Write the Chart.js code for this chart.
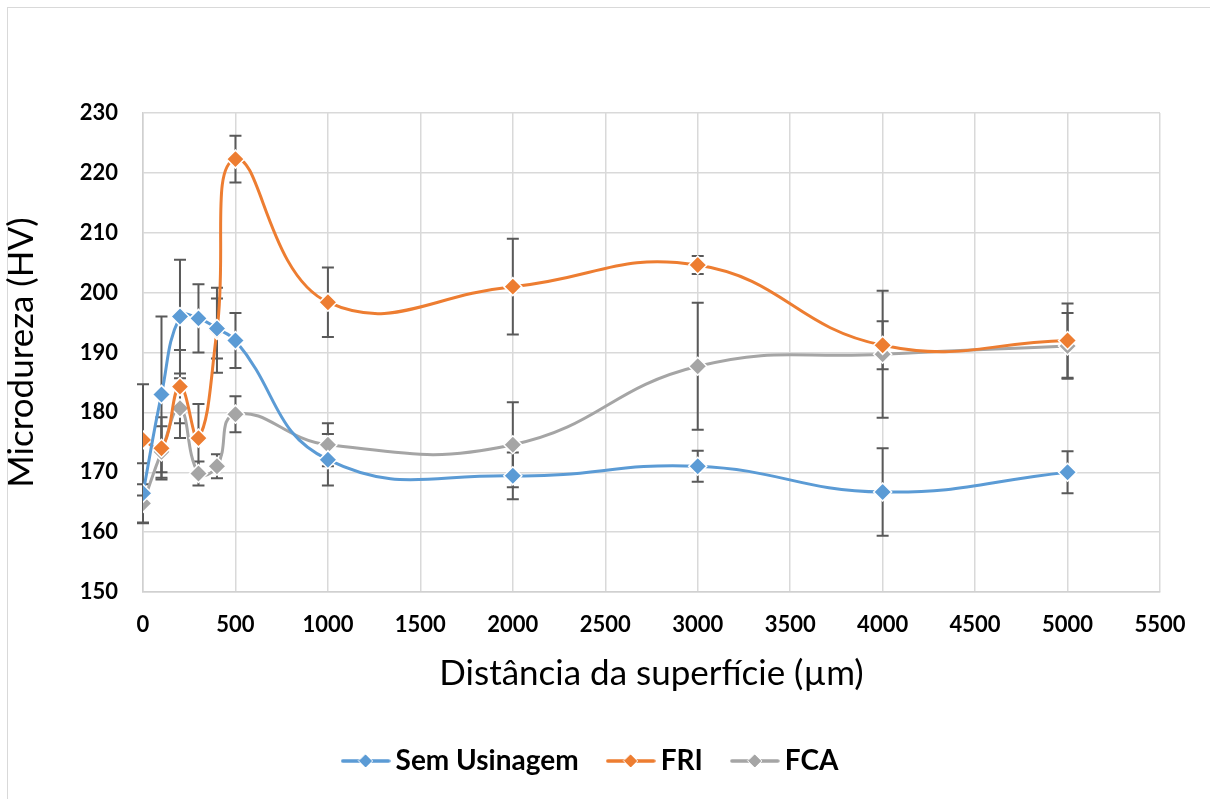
<!DOCTYPE html>
<html>
<head>
<meta charset="utf-8">
<script src="https://cdn.jsdelivr.net/npm/chart.js@4"></script>
<style>
  html, body { margin: 0; padding: 0; background: #fff; overflow: hidden; }
  #frame { position: absolute; left: 7px; top: 7px; width: 1220px; height: 810px; border: 1px solid #d9d9d9; }
  #wrap { position: absolute; left: 0; top: 0; width: 1210px; height: 799px; }
</style>
</head>
<body>
<div id="frame"></div>
<div id="wrap"><canvas id="myChart" width="1210" height="799"></canvas></div>
<script>
// distancias (µm) e microdureza (HV)
const distancias = [0, 100, 200, 300, 400, 500, 1000, 2000, 3000, 4000, 5000]
const semUsinagem = [166.5, 183.0, 196.0, 195.7, 194.0, 192.0, 172.1, 169.4, 171.0, 166.7, 170.0]
const semUsinagemErro = [5.0, 13.0, 9.5, 5.7, 5.0, 4.6, 4.3, 3.9, 2.6, 7.3, 3.5]
const fri = [175.4, 174.0, 184.3, 175.7, 193.7, 222.3, 198.4, 201.0, 204.6, 191.2, 192.0]
const friErro = [9.3, 5.2, 6.1, 5.7, 7.1, 3.9, 5.8, 8.0, 1.5, 4.0, 6.2]
const fca = [164.8, 173.4, 180.7, 169.8, 171.0, 179.7, 174.6, 174.6, 187.7, 189.7, 191.1]
const fcaErro = [3.2, 4.3, 5.0, 2.0, 2.0, 3.0, 3.6, 7.1, 10.6, 10.6, 5.5]
const xTicks = [0, 500, 1000, 1500, 2000, 2500, 3000, 3500, 4000, 4500, 5000, 5500]
const yTicks = [150, 160, 170, 180, 190, 200, 210, 220, 230]

const azul = '#5b9bd5'
const laranja = '#ed7d31'
const cinza = '#a5a5a5'

function pontos(valores) {
    return distancias.map((d, i) => ({ x: d, y: valores[i] }))
}

// imagem da legenda: linha com losango no meio
function iconeLegenda(cor) {
    const c = document.createElement('canvas')
    c.width = 50
    c.height = 18
    const g = c.getContext('2d')
    g.strokeStyle = cor
    g.lineWidth = 3.5
    g.lineCap = 'round'
    g.beginPath()
    g.moveTo(2, 9)
    g.lineTo(48, 9)
    g.stroke()
    g.fillStyle = cor
    g.strokeStyle = '#fff'
    g.lineWidth = 1
    g.beginPath()
    g.moveTo(25, 2)
    g.lineTo(32, 9)
    g.lineTo(25, 16)
    g.lineTo(18, 9)
    g.closePath()
    g.fill()
    g.stroke()
    return c
}

const errorBars = {
    id: 'errorBars',
    afterLayout(chart) {
        // empurra a legenda um pouco pra direita, como no original
        chart.legend.left += 14
        chart.legend.right += 14
    },
    beforeDatasetsDraw(chart) {
        const ctx = chart.ctx
        const yScale = chart.scales.y
        ctx.save()
        ctx.strokeStyle = '#595959'
        ctx.lineWidth = 2
        chart.data.datasets.forEach((ds, i) => {
            const meta = chart.getDatasetMeta(i)
            meta.data.forEach((pt, j) => {
                const v = ds.data[j].y
                const e = ds.erros[j]
                const top = yScale.getPixelForValue(v + e)
                const bot = yScale.getPixelForValue(v - e)
                ctx.beginPath()
                ctx.moveTo(pt.x, top)
                ctx.lineTo(pt.x, bot)
                ctx.moveTo(pt.x - 6, top)
                ctx.lineTo(pt.x + 6, top)
                ctx.moveTo(pt.x - 6, bot)
                ctx.lineTo(pt.x + 6, bot)
                ctx.stroke()
            })
        })
        ctx.restore()
    }
}

function serie(nome, valores, erros, cor) {
    return {
        label: nome,
        data: pontos(valores),
        erros: erros,
        borderColor: cor,
        backgroundColor: cor,
        borderWidth: 3,
        tension: 0.45,
        pointStyle: 'rectRot',
        pointRadius: 9,
        pointHoverRadius: 9,
        pointBorderColor: '#fff',
        pointBorderWidth: 1.5,
        pointBackgroundColor: cor,
        icone: iconeLegenda(cor)
    }
}

let ctx = document.getElementById('myChart').getContext('2d')

let grafico = new Chart(ctx, {
    type: 'line',
    data: {
        datasets: [
            serie('Sem Usinagem', semUsinagem, semUsinagemErro, azul),
            serie('FRI', fri, friErro, laranja),
            serie('FCA', fca, fcaErro, cinza)
        ]
    },
    options: {
        responsive: false,
        animation: false,
        layout: { padding: { left: 0, top: 113, right: 50, bottom: 14 } },
        plugins: {
            tooltip: { enabled: false },
            legend: {
                position: 'bottom',
                labels: {
                    usePointStyle: true,
                    pointStyleWidth: 32,
                    padding: 36,
                    color: '#000',
                    font: { family: 'Lato', size: 28, weight: 'bold' },
                    generateLabels(chart) {
                        return chart.data.datasets.map((ds, i) => ({
                            text: ds.label,
                            pointStyle: ds.icone,
                            fillStyle: ds.borderColor,
                            strokeStyle: ds.borderColor,
                            lineWidth: 0,
                            fontColor: '#000',
                            datasetIndex: i
                        }))
                    }
                }
            }
        },
        scales: {
            x: {
                type: 'linear',
                min: 0,
                max: 5500,
                afterBuildTicks(scale) { scale.ticks = xTicks.map(v => ({ value: v })) },
                afterFit(scale) { scale.height = 119 },
                grid: { color: '#d9d9d9', lineWidth: 1.5, drawTicks: false },
                border: { color: '#d0d0d0', width: 1.5 },
                ticks: {
                    padding: 20,
                    color: '#000',
                    font: { family: 'Lato', size: 22, weight: 'bold' },
                    callback: v => String(v)
                },
                title: {
                    display: true,
                    text: 'Distância da superfície (µm)',
                    color: '#000',
                    font: { family: 'Lato', size: 35 },
                    padding: { top: 0, bottom: 16 }
                }
            },
            y: {
                min: 150,
                max: 230,
                afterBuildTicks(scale) { scale.ticks = yTicks.map(v => ({ value: v })) },
                afterFit(scale) { scale.width = 143 },
                grid: { color: '#d9d9d9', lineWidth: 1.5, drawTicks: false },
                border: { color: '#d0d0d0', width: 1.5 },
                ticks: {
                    padding: 25,
                    color: '#000',
                    font: { family: 'Lato', size: 22, weight: 'bold' },
                    callback: v => String(v)
                },
                title: {
                    display: true,
                    text: 'Microdureza (HV)',
                    color: '#000',
                    font: { family: 'Lato', size: 35 },
                    padding: { top: 1, bottom: 0 }
                }
            }
        }
    },
    plugins: [errorBars]
})
</script>
</body>
</html>
